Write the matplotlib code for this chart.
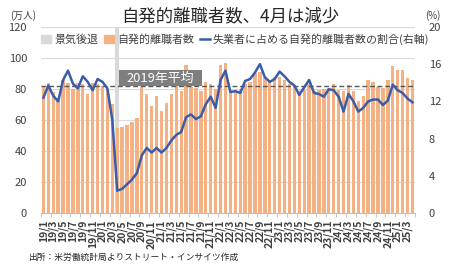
import matplotlib
matplotlib.use("Agg")
import matplotlib.pyplot as plt
from matplotlib.patches import Patch, Rectangle
from matplotlib.lines import Line2D
import numpy as np

plt.rcParams['font.family'] = ['Noto Sans CJK JP', 'DejaVu Sans']

# ---- data ----
years = [19, 20, 21, 22, 23, 24, 25]
months_per_year = [12, 12, 12, 12, 12, 12, 4]
labels = [f"{y}/{m}" for y, n in zip(years, months_per_year) for m in range(1, n + 1)]

quits = [81, 84, 78, 74, 86, 84, 80, 84, 83, 77, 84, 83,
         82, 80, 70, 55, 55.5, 57, 58.5, 61.5, 81, 77, 69, 75.5,
         65.5, 71, 77, 84.5, 79, 95.5, 81.5, 80.5, 79, 84.5, 83.5, 80,
         95.5, 97, 79, 79, 80, 83.5, 84.5, 90, 91, 87, 84.5, 87.5,
         88, 86, 83.5, 82.5, 79, 79.5, 83.5, 79, 79.5, 80, 80.5, 83.5,
         79.5, 79, 82.5, 79, 72, 75.5, 86, 84.5, 81.5, 80.5, 86, 95,
         92, 92.5, 87, 86]

share = [12.4, 13.7, 12.6, 12.0, 14.3, 15.3, 13.9, 13.4, 14.7, 14.1, 13.2, 14.4,
         14.1, 13.4, 10.0, 2.4, 2.6, 3.1, 3.6, 4.3, 6.2, 7.0, 6.5, 7.0,
         6.5, 7.0, 7.8, 8.4, 8.7, 10.3, 10.6, 10.1, 10.4, 11.7, 12.5, 11.3,
         14.3, 15.3, 13.0, 13.1, 12.9, 14.2, 14.4, 15.1, 16.0, 14.6, 14.1, 14.4,
         15.2, 14.7, 14.1, 13.7, 12.7, 13.5, 14.3, 12.9, 12.8, 12.5, 13.3, 13.2,
         12.5, 10.9, 12.8, 12.0, 10.9, 11.3, 12.0, 12.2, 12.2, 11.6, 12.1, 13.8,
         13.2, 12.9, 12.3, 11.9]

avg_2019 = 81.7
recession_start = "20/4"

c_bar = '#F4B183'
c_line = '#3B5CA8'
c_rec = '#D9D9D9'
c_txt = '#404040'

x = np.arange(len(labels))

fig = plt.figure(figsize=(4.5, 2.64), dpi=100)
ax = fig.add_axes([0.091, 0.193, 0.831, 0.705])

ri = labels.index(recession_start)
ax.axvspan(ri - 0.4, ri + 0.35, color=c_rec, zorder=0.5, lw=0)
ax.bar(x, quits, width=0.68, color=c_bar, zorder=2)
ax.axhline(avg_2019, color='#595959', lw=1.0, dashes=(3.5, 2), zorder=3)

# label box for the 2019 average
bx0, bx1 = ri + 0.35, ri + 17.2
ax.add_patch(Rectangle((bx0, avg_2019), bx1 - bx0, 10.3, fc='#7F7F7F', ec='none', zorder=4))
ax.text((bx0 + bx1) / 2, avg_2019 + 5.0, '2019年平均', color='white', fontsize=9.3,
        ha='center', va='center', zorder=5)

ax.set_xlim(-0.5, len(labels) - 0.5)
ax.set_ylim(0, 120)
ax.set_yticks(range(0, 121, 20))
ax.yaxis.grid(True, color='#D9D9D9', lw=0.8)
ax.set_axisbelow(True)
for s in ['top', 'left', 'right']:
    ax.spines[s].set_visible(False)
ax.spines['bottom'].set_color('#BFBFBF')
ax.tick_params(axis='y', length=0, pad=10, labelsize=8, labelcolor=c_txt)

ax.set_xticks(x[::2])
ax.set_xticklabels(labels[::2], rotation=90, fontsize=7.5, color=c_txt, fontweight='bold')
ax.tick_params(axis='x', length=0, pad=5)
ax.set_xticks(np.arange(-0.5, len(labels), 2), minor=True)
ax.tick_params(axis='x', which='minor', length=3, color='#BFBFBF')

ax2 = ax.twinx()
ax2.plot(x, share, color=c_line, lw=1.8, zorder=5)
ax2.set_ylim(0, 20)
ax2.set_yticks(range(0, 21, 4))
for s in ['top', 'left', 'right', 'bottom']:
    ax2.spines[s].set_visible(False)
ax2.tick_params(axis='y', length=0, pad=10, labelsize=8, labelcolor=c_txt)

fig.text(0.511, 0.94, '自発的離職者数、4月は減少', fontsize=12.5, ha='center', va='center', color='#262626')
fig.text(0.022, 0.94, '(万人)', fontsize=7, ha='left', va='center', color=c_txt)
fig.text(0.945, 0.94, '(%)', fontsize=7, ha='left', va='center', color=c_txt)
fig.text(0.062, 0.026, '出所：米労働統計局よりストリート・インサイツ作成', fontsize=6.3,
         ha='left', va='center', color='#262626')

handles = [Patch(color=c_rec, label='景気後退'),
           Patch(color=c_bar, label='自発的離職者数'),
           Line2D([0], [0], color=c_line, lw=1.8, label='失業者に占める自発的離職者数の割合(右軸)')]
fig.legend(handles=handles, loc='center left', bbox_to_anchor=(0.08, 0.852), ncol=3,
           frameon=False, fontsize=7.9, handlelength=0.9, handleheight=0.8,
           handletextpad=0.25, columnspacing=0.55, borderpad=0, labelcolor=c_txt)

fig.savefig('out.png', dpi=100)
